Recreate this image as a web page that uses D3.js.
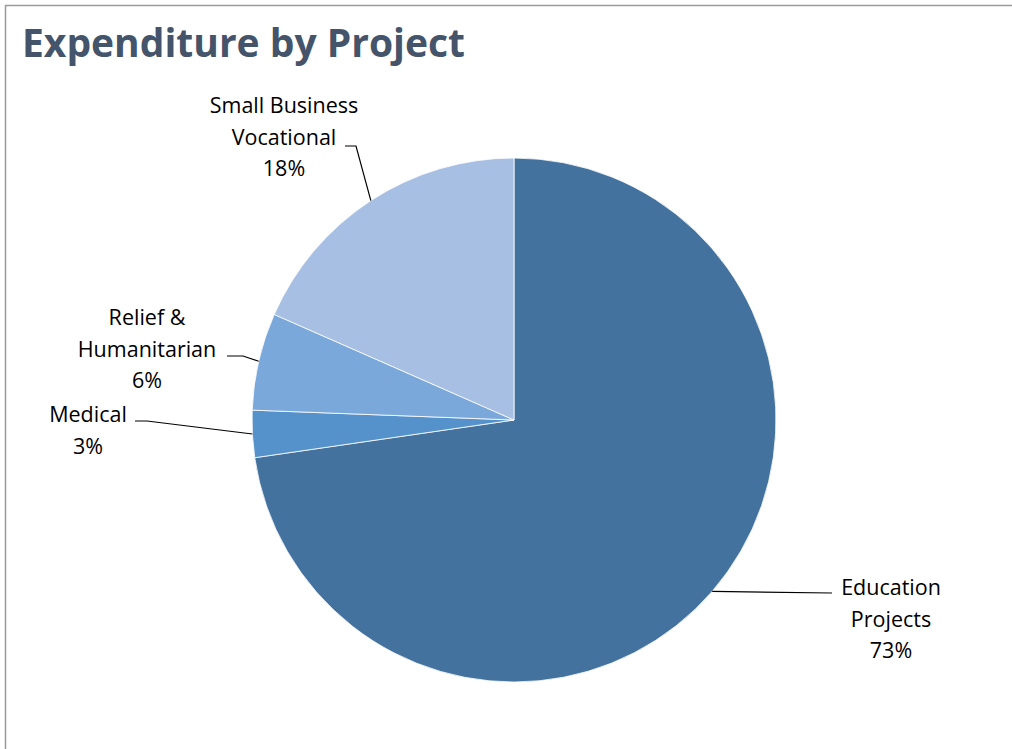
<!DOCTYPE html>
<html><head><meta charset="utf-8">
<script src="https://cdn.jsdelivr.net/npm/d3@7/dist/d3.min.js"></script>
<style>body{margin:0;background:#fff}svg{display:block}</style>
</head><body>
<svg id="c" width="1012" height="749"></svg>
<script>
const categories = ["Education Projects", "Medical", "Relief & Humanitarian", "Small Business Vocational"];
const values = [72.7, 2.9, 6.0, 18.4];
const labelLines = [["Education", "Projects"], ["Medical"], ["Relief &", "Humanitarian"], ["Small Business", "Vocational"]];
const colors = ["#44729E", "#5592CB", "#7BA8DA", "#A6BFE2"];

const svg = d3.select("#c");
svg.append("rect").attr("x", 5.5).attr("y", 5.5).attr("width", 1100).attr("height", 800)
  .attr("fill", "#fff").attr("stroke", "#9a9a9a").attr("stroke-width", 1.5);

svg.append("text").attr("x", 22).attr("y", 57).text("Expenditure by Project")
  .attr("font-family", "Open Sans, sans-serif").attr("font-weight", 700).attr("font-size", 39)
  .attr("fill", "#44546A");

const cx = 514, cy = 420, R = 262;
const total = d3.sum(values);
const pie = d3.pie().sort(null).value(d => d)(values);
const arc = d3.arc().innerRadius(0).outerRadius(R);
const g = svg.append("g").attr("transform", `translate(${cx},${cy})`);
g.selectAll("path").data(pie).join("path").attr("d", arc)
  .attr("fill", (d, i) => colors[i]).attr("stroke", "#fff").attr("stroke-width", 0.8);

// label layout (positions only)
const layout = [
  {x: 891, y: 595, line: [832, 593], elbow: 0},
  {x: 88, y: 422, line: [135, 421], elbow: 12},
  {x: 147, y: 325, line: [227, 356], elbow: 16},
  {x: 284, y: 113, line: [345, 146], elbow: 11}
];
const fs = 21.5, lh = 31.5;
pie.forEach((d, i) => {
  const L = layout[i];
  const mid = (d.startAngle + d.endAngle) / 2;
  const ex = cx + R * Math.sin(mid), ey = cy - R * Math.cos(mid);
  let pts;
  if (i === 0) pts = [[ex, ey], [L.line[0], L.line[1]]];
  else pts = [[L.line[0], L.line[1]], [L.line[0] + L.elbow, L.line[1]], [ex, ey]];
  svg.append("path").attr("d", d3.line()(pts)).attr("fill", "none").attr("stroke", "#000").attr("stroke-width", 1.2);
  const t = svg.append("text").attr("font-family", "Open Sans, sans-serif").attr("font-size", fs)
    .attr("fill", "#000").attr("text-anchor", "middle");
  const lines = labelLines[i].concat([Math.round(d.data / total * 100) + "%"]);
  lines.forEach((s, j) => {
    t.append("tspan").attr("x", L.x).attr("y", L.y + j * lh).text(s);
  });
});
</script>
</body></html>
